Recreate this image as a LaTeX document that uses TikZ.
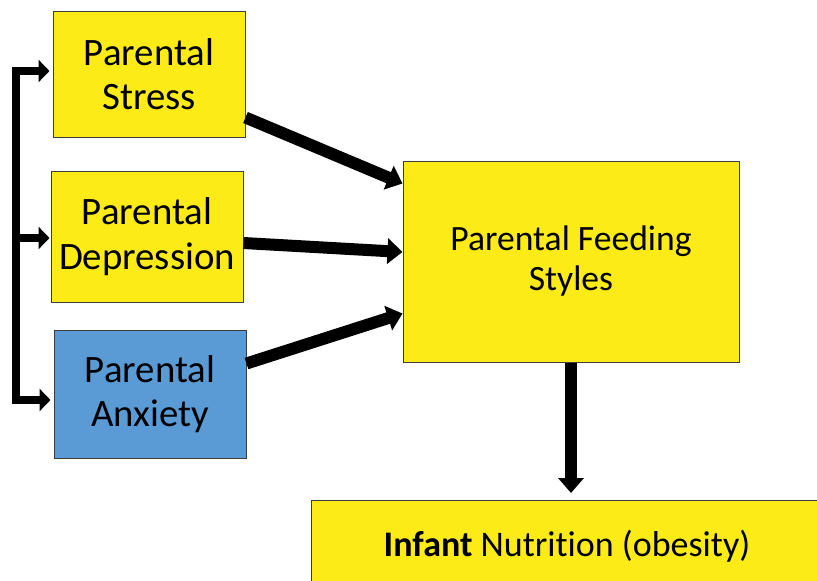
\documentclass[tikz,border=0pt]{standalone}
\usepackage{fontspec}
\setmainfont[Ligatures=NoCommon]{Carlito}
\usetikzlibrary{arrows.meta}
\definecolor{boxyellow}{RGB}{252,235,22}
\definecolor{boxblue}{RGB}{91,155,213}
\definecolor{boxedge}{RGB}{60,60,60}
\begin{document}
\begin{tikzpicture}[x=1pt,y=1pt,
  box/.style={draw=boxedge,line width=1pt,fill=boxyellow,inner sep=0pt,align=center,
    font=\fontsize{38.8}{44.5}\selectfont},
  bigarrow/.style={line width=12pt,-{Triangle[length=15pt,width=25pt]}},
  brk/.style={line width=8pt,line join=miter}]
\useasboundingbox (0,0) rectangle (817,-581);
\clip (0,0) rectangle (817,-581);
\node[box,minimum width=192pt,minimum height=126pt] (stress) at (149,-74) {Parental\\Stress};
\node[box,minimum width=192pt,minimum height=131pt] (depr) at (147,-236.5) {Parental\\Depression};
\node[box,fill=boxblue,minimum width=192pt,minimum height=128pt] (anx) at (150,-394) {Parental\\Anxiety};
\node[box,minimum width=336pt,minimum height=201pt,font=\fontsize{35.6}{40}\selectfont] (feed) at (571,-261.5) {Parental Feeding\\Styles};
\node[box,anchor=north west,minimum width=511pt,minimum height=92pt,font=\fontsize{36}{40}\selectfont] (inf) at (311,-500) {\textbf{Infant} Nutrition (obesity)};
% thick arrows
\draw[bigarrow] ([yshift=20pt]stress.south east) -- ([yshift=-23pt]feed.north west);
\draw[bigarrow] ([yshift=-6.5pt]depr.east) -- ([yshift=9.5pt]feed.west);
\draw[bigarrow] ([yshift=-34pt]anx.north east) -- ([yshift=49pt]feed.south west);
\draw[bigarrow,shorten >=7pt] (feed.south) -- (inf.north -| feed.south);
% bracket
\coordinate (bt) at (16,-71);
\coordinate (bm) at (16,-238);
\coordinate (bb) at (16,-400);
\draw[brk,{Triangle[length=11pt,width=22pt]}-{Triangle[length=11pt,width=22pt]}]
  ([xshift=-3pt]stress.west |- bt) -- (bt) -- (bb) -- ([xshift=-3pt]anx.west |- bb);
\draw[brk,-{Triangle[length=11pt,width=22pt]}] ([xshift=-4pt]bm) -- ([xshift=-1pt]depr.west |- bm);
\end{tikzpicture}
\end{document}
